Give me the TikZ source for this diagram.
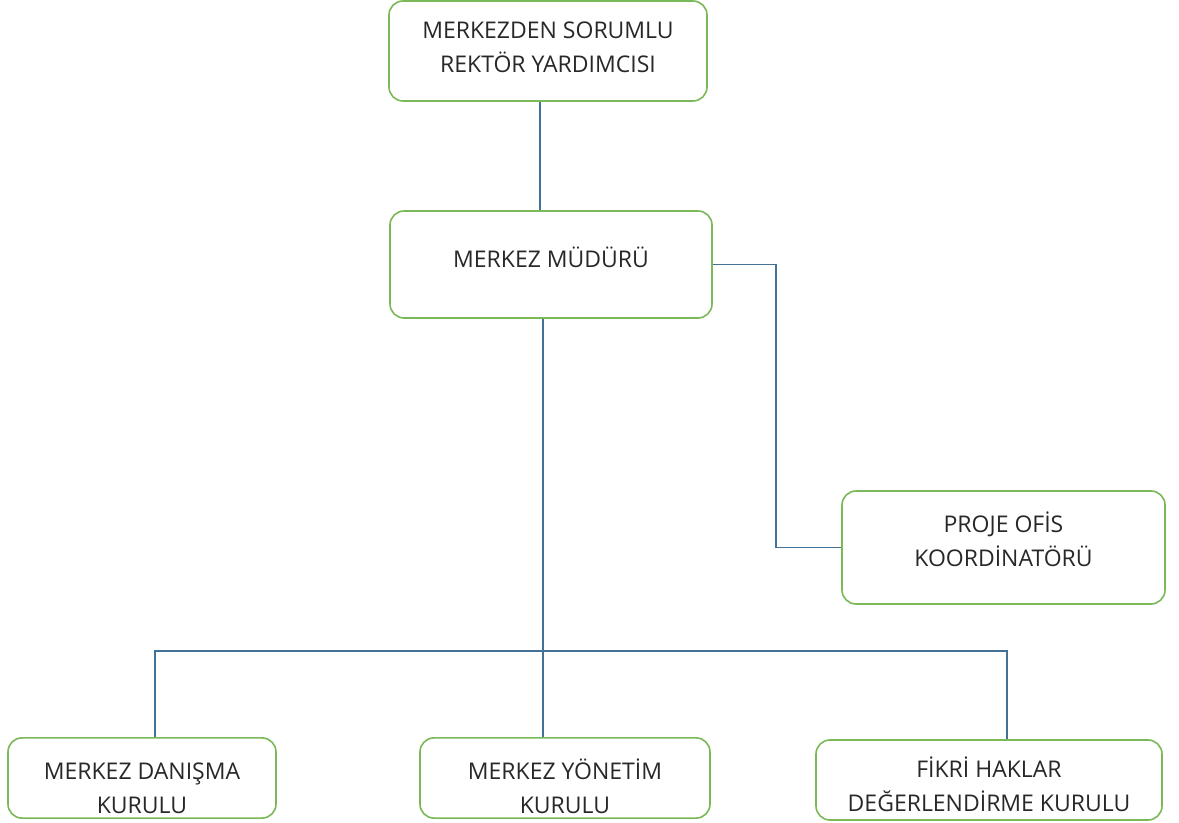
\documentclass[tikz,border=0pt]{standalone}
\usepackage{fontspec}
\setmainfont{Open Sans}
\usepackage{xcolor}
\usepackage{tikz}
\usetikzlibrary{positioning}
\definecolor{boxgreen}{RGB}{122, 184, 88}
\definecolor{linkblue}{RGB}{68, 114, 150}
\definecolor{textgray}{RGB}{40, 40, 40}
\newcommand{\topgap}[1]{\rule{0pt}{#1}}

\tikzset{
    unitbox/.style={draw=boxgreen, line width=0.8pt, rounded corners=7pt, fill=white,
        align=center, text=textgray, font=\fontsize{11.5}{17}\selectfont, inner sep=2pt},
    textup/.style={execute at end node={\rule[-#1]{0pt}{#1}}},
    link/.style={draw=linkblue, line width=0.8pt}
}

\begin{document}
\begin{tikzpicture}[x=0.5pt, y=-0.5pt]
    \useasboundingbox (0,0) rectangle (1179,823);

    % boxes
    \node[unitbox, textup=4pt, minimum width=159pt, minimum height=50pt] (vice) at (548,51)
        {MERKEZDEN SORUMLU\\REKTÖR YARDIMCISI};
    \node[unitbox, textup=7pt, minimum width=161pt, minimum height=53.5pt] (mudur) at (551,264.5)
        {MERKEZ MÜDÜRÜ};
    \node[unitbox, textup=8pt, minimum width=161.5pt, minimum height=56.5pt] (proje) at (1003.5,547.5)
        {PROJE OFİS\\KOORDİNATÖRÜ};
    \node[unitbox, minimum width=134pt, minimum height=40pt] (danisma) at (142,778)
        {\topgap{19pt}MERKEZ DANIŞMA\\KURULU};
    \node[unitbox, minimum width=145pt, minimum height=40pt] (yonetim) at (565,778)
        {\topgap{19pt}MERKEZ YÖNETİM\\KURULU};
    \node[unitbox, minimum width=173pt, minimum height=40pt] (fikri) at (989,780)
        {\topgap{15pt}FİKRİ HAKLAR\\DEĞERLENDİRME KURULU};

    % connectors
    \coordinate (trunk) at (543,651);
    \coordinate (busL) at (155,651);
    \coordinate (busR) at (1007,651);
    \draw[link] (vice.south -| 540,0) -- (540,0 |- mudur.north);
    \draw[link] (mudur.east) -- ++(63,0) |- (proje.west);
    \draw[link] (mudur.south -| trunk) -- (trunk |- yonetim.north);
    \draw[link] (busL |- danisma.north) -- (busL) -- (busR) -- (busR |- fikri.north);
\end{tikzpicture}
\end{document}
